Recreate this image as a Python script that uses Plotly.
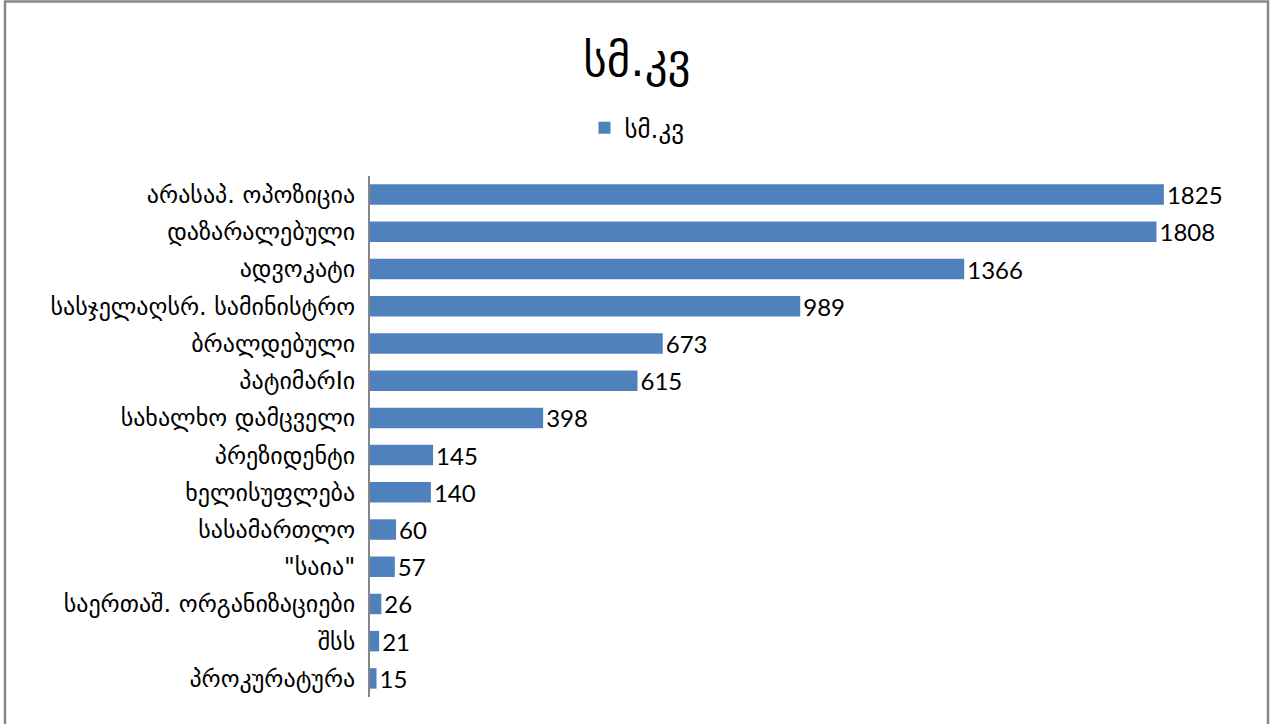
import plotly.graph_objects as go

categories = [
    "არასაპ. ოპოზიცია",
    "დაზარალებული",
    "ადვოკატი",
    "სასჯელაღსრ. სამინისტრო",
    "ბრალდებული",
    "პატიმარIი",
    "სახალხო დამცველი",
    "პრეზიდენტი",
    "ხელისუფლება",
    "სასამართლო",
    "\"საია\"",
    "საერთაშ. ორგანიზაციები",
    "შსს",
    "პროკურატურა",
]
values = [1825, 1808, 1366, 989, 673, 615, 398, 145, 140, 60, 57, 26, 21, 15]
series_name = "სმ.კვ"

W, H = 1273, 724
L, R, T, B = 370, 1240, 176, 697

fig = go.Figure()
fig.add_trace(go.Bar(
    y=categories,
    x=values,
    orientation="h",
    name=series_name,
    marker=dict(color="#4F81BD", line=dict(width=0)),
    text=[str(v) for v in values],
    textposition="outside",
    constraintext="none",
    textfont=dict(size=24, color="black", family="Lato, DejaVu Sans"),
    cliponaxis=False,
    showlegend=True,
))

def px_x(p):
    return (p - L) / (R - L)

def px_y(p):
    return (B - p) / (B - T)

fig.update_layout(
    width=W, height=H,
    margin=dict(l=L, r=W - R, t=T, b=H - B, autoexpand=False),
    paper_bgcolor="white",
    plot_bgcolor="white",
    font=dict(family="DejaVu Sans", color="black"),
    bargap=0.45,
    title=dict(text=series_name, x=637 / W, xref="container", xanchor="center",
               y=1 - 60 / H, yref="container", yanchor="middle",
               font=dict(size=45, family="DejaVu Sans", color="black")),
    legend=dict(orientation="h", x=637 / W, xref="container", xanchor="center",
                y=1 - 128 / H, yref="container", yanchor="middle",
                font=dict(size=25, family="DejaVu Sans", color="black"),
                itemwidth=30, tracegroupgap=0),
    xaxis=dict(range=[0, 2000], showgrid=False, zeroline=False,
               showticklabels=False, showline=False, ticks=""),
    yaxis=dict(autorange="reversed", showgrid=False, zeroline=False,
               showline=True, linecolor="#868686", linewidth=2,
               ticks="", tickfont=dict(size=24, family="DejaVu Sans", color="black"),
               ticklabelstandoff=8),
    shapes=[dict(type="rect", xref="paper", yref="paper",
                 x0=px_x(5), x1=px_x(1268), y0=px_y(740), y1=px_y(1.5),
                 line=dict(color="#868686", width=2.5), fillcolor="rgba(0,0,0,0)",
                 layer="below")],
)

fig.write_html("out.html", config={"displayModeBar": False},
               post_script="document.body.style.margin='0';document.body.style.overflow='hidden';")
